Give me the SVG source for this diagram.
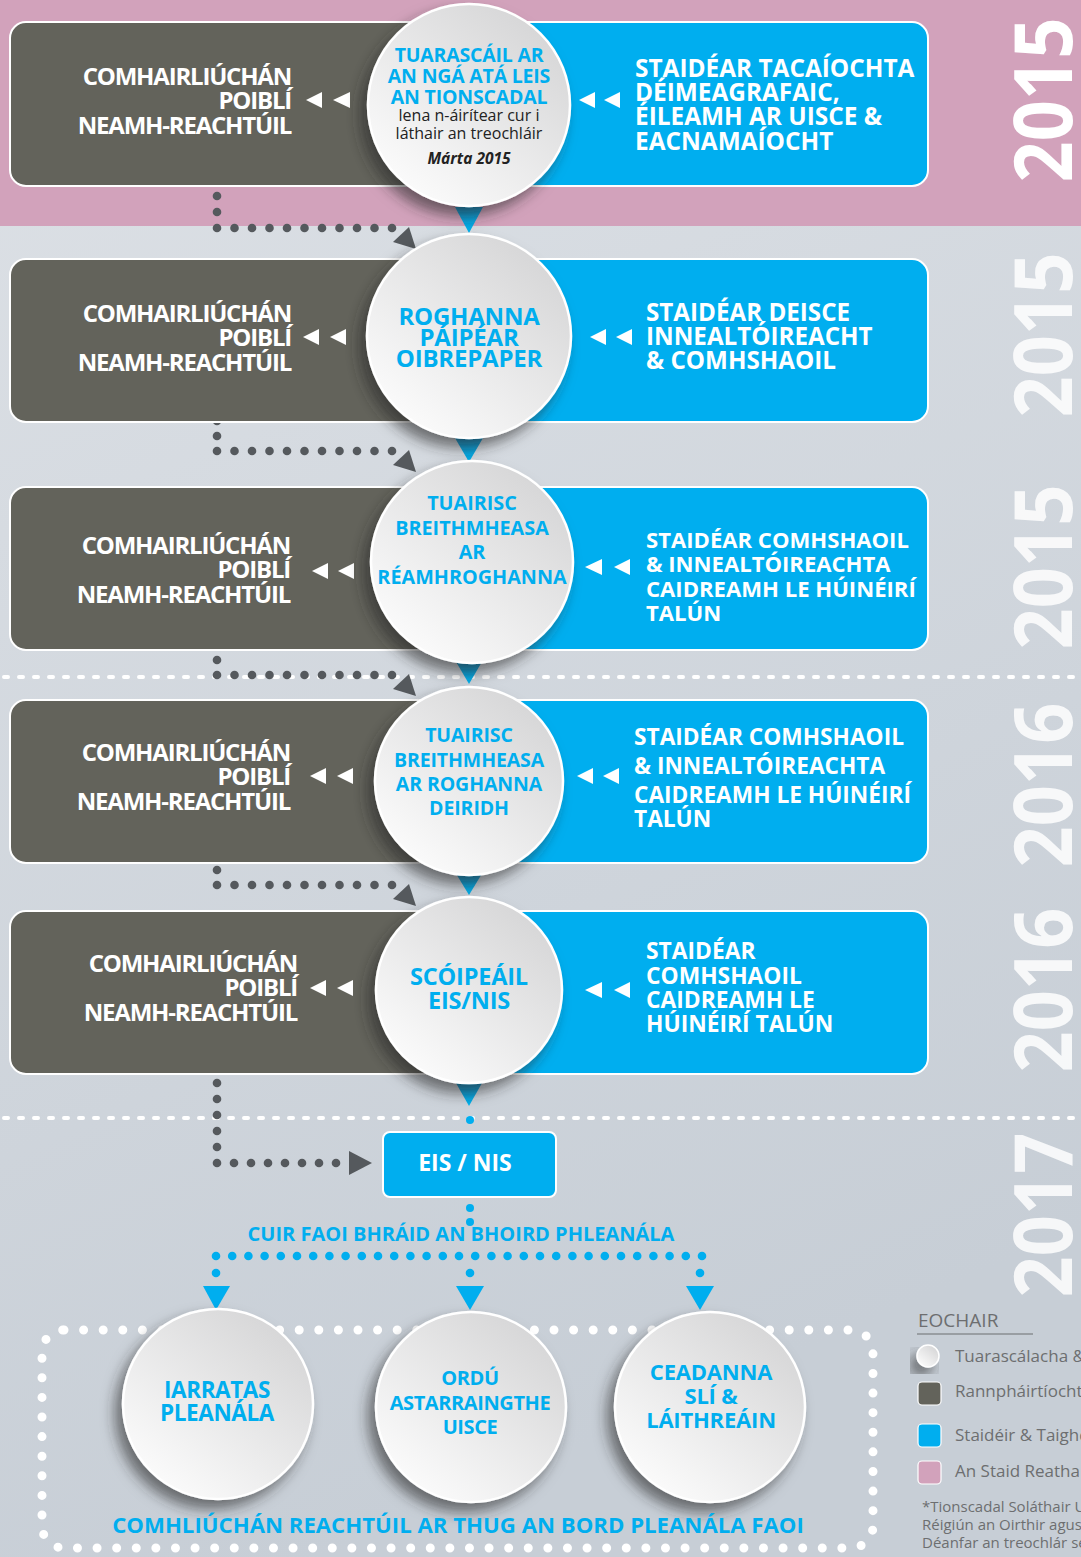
<svg xmlns="http://www.w3.org/2000/svg" width="1081" height="1557" viewBox="0 0 1081 1557">
<defs>
<linearGradient id="bg" x1="0" y1="0" x2="0.3" y2="1">
<stop offset="0" stop-color="#dde1e6"/>
<stop offset="1" stop-color="#c7ced6"/>
</linearGradient>
<linearGradient id="cg" x1="0.85" y1="0.1" x2="0.2" y2="0.9">
<stop offset="0" stop-color="#d6d6d7"/>
<stop offset="1" stop-color="#fafafa"/>
</linearGradient>
<linearGradient id="tg" x1="0" y1="0" x2="0" y2="1">
<stop offset="0" stop-color="#0a8fc8"/>
<stop offset="1" stop-color="#00b4f0"/>
</linearGradient>
<filter id="sh" x="-30%" y="-30%" width="160%" height="160%">
<feGaussianBlur in="SourceAlpha" stdDeviation="7"/>
<feOffset dx="-7" dy="9" result="b"/>
<feFlood flood-color="#2a2a2a" flood-opacity="0.6"/>
<feComposite in2="b" operator="in"/>
<feMerge><feMergeNode/><feMergeNode in="SourceGraphic"/></feMerge>
</filter>
<style>
.grey{fill:#63635b;stroke:#fff;stroke-width:2}
.blue{fill:#00aeef;stroke:#fff;stroke-width:2}
.circ{fill:url(#cg);stroke:#fff;stroke-width:2.5;filter:url(#sh)}
.gt{font-family:"Open Sans","Liberation Sans",sans-serif;font-weight:700;font-size:24px;fill:#fff;text-anchor:end;letter-spacing:-1.2px}
.bt{font-family:"Open Sans","Liberation Sans",sans-serif;font-weight:700;font-size:22.5px;fill:#fff}
.bt24{font-size:24.4px}
.ct{font-family:"Open Sans","Liberation Sans",sans-serif;font-weight:700;fill:#00aeef;text-anchor:middle}
.nt{font-family:"Open Sans","Liberation Sans",sans-serif;font-size:16px;fill:#222;text-anchor:middle}
.yr{font-family:"Open Sans","Liberation Sans",sans-serif;font-weight:700;font-size:80px;fill:#fff;text-anchor:middle}
.arr{fill:#fff}
.gd{fill:#55595d}
.bd{fill:#00aeef}
.lg{font-family:"Open Sans","Liberation Sans",sans-serif;font-size:17px;fill:#6d6e70}
.ft{font-family:"Open Sans","Liberation Sans",sans-serif;font-size:15px;fill:#6d6e70}
</style>
</defs>

<g id="background">
<rect x="0" y="0" width="1081" height="1557" fill="url(#bg)"/>
<rect x="0" y="0" width="1081" height="226" fill="#d2a2bb"/>
<line x1="4" y1="677" x2="1081" y2="677" stroke="#fff" stroke-width="4" stroke-linecap="round" stroke-dasharray="4 11"/>
<line x1="4" y1="1118" x2="1081" y2="1118" stroke="#fff" stroke-width="4" stroke-linecap="round" stroke-dasharray="4 11"/>
<rect x="42" y="1330" width="831" height="218" rx="22" fill="none" stroke="#fff" stroke-width="9" stroke-linecap="round" stroke-dasharray="0 19.6"/>
</g>

<g id="years">
<text class="yr" transform="translate(1072,100) rotate(-90)" textLength="165" lengthAdjust="spacingAndGlyphs">2015</text>
<text class="yr" transform="translate(1072,335) rotate(-90)" textLength="165" lengthAdjust="spacingAndGlyphs" opacity="0.85">2015</text>
<text class="yr" transform="translate(1072,567) rotate(-90)" textLength="165" lengthAdjust="spacingAndGlyphs" opacity="0.85">2015</text>
<text class="yr" transform="translate(1072,785) rotate(-90)" textLength="165" lengthAdjust="spacingAndGlyphs" opacity="0.85">2016</text>
<text class="yr" transform="translate(1072,990) rotate(-90)" textLength="165" lengthAdjust="spacingAndGlyphs" opacity="0.85">2016</text>
<text class="yr" transform="translate(1072,1215) rotate(-90)" textLength="165" lengthAdjust="spacingAndGlyphs" opacity="0.85">2017</text>
</g>

<g id="connectors">
<g class="gd">
<circle cx="217" cy="196" r="4.3"/><circle cx="217" cy="212" r="4.3"/>
<circle cx="217" cy="228" r="4.3"/><circle cx="234.5" cy="228" r="4.3"/><circle cx="252" cy="228" r="4.3"/><circle cx="269.5" cy="228" r="4.3"/><circle cx="287" cy="228" r="4.3"/><circle cx="304.5" cy="228" r="4.3"/><circle cx="322" cy="228" r="4.3"/><circle cx="339.5" cy="228" r="4.3"/><circle cx="357" cy="228" r="4.3"/><circle cx="374.5" cy="228" r="4.3"/><circle cx="392" cy="228" r="4.3"/>
<polygon points="393,242 409,227 416,249"/>
<circle cx="217" cy="421" r="4.3"/><circle cx="217" cy="436" r="4.3"/>
<circle cx="217" cy="451" r="4.3"/><circle cx="234.5" cy="451" r="4.3"/><circle cx="252" cy="451" r="4.3"/><circle cx="269.5" cy="451" r="4.3"/><circle cx="287" cy="451" r="4.3"/><circle cx="304.5" cy="451" r="4.3"/><circle cx="322" cy="451" r="4.3"/><circle cx="339.5" cy="451" r="4.3"/><circle cx="357" cy="451" r="4.3"/><circle cx="374.5" cy="451" r="4.3"/><circle cx="392" cy="451" r="4.3"/>
<polygon points="393,465 409,450 416,472"/>
<circle cx="217" cy="645" r="4.3"/><circle cx="217" cy="660" r="4.3"/>
<circle cx="217" cy="675" r="4.3"/><circle cx="234.5" cy="675" r="4.3"/><circle cx="252" cy="675" r="4.3"/><circle cx="269.5" cy="675" r="4.3"/><circle cx="287" cy="675" r="4.3"/><circle cx="304.5" cy="675" r="4.3"/><circle cx="322" cy="675" r="4.3"/><circle cx="339.5" cy="675" r="4.3"/><circle cx="357" cy="675" r="4.3"/><circle cx="374.5" cy="675" r="4.3"/><circle cx="392" cy="675" r="4.3"/>
<polygon points="393,689 409,674 416,696"/>
<circle cx="217" cy="855" r="4.3"/><circle cx="217" cy="870" r="4.3"/>
<circle cx="217" cy="885" r="4.3"/><circle cx="234.5" cy="885" r="4.3"/><circle cx="252" cy="885" r="4.3"/><circle cx="269.5" cy="885" r="4.3"/><circle cx="287" cy="885" r="4.3"/><circle cx="304.5" cy="885" r="4.3"/><circle cx="322" cy="885" r="4.3"/><circle cx="339.5" cy="885" r="4.3"/><circle cx="357" cy="885" r="4.3"/><circle cx="374.5" cy="885" r="4.3"/><circle cx="392" cy="885" r="4.3"/>
<polygon points="393,899 409,884 416,906"/>
<circle cx="217" cy="1083" r="4.3"/><circle cx="217" cy="1099" r="4.3"/><circle cx="217" cy="1115" r="4.3"/><circle cx="217" cy="1131" r="4.3"/><circle cx="217" cy="1147" r="4.3"/>
<circle cx="217" cy="1163" r="4.3"/><circle cx="234" cy="1163" r="4.3"/><circle cx="251" cy="1163" r="4.3"/><circle cx="268" cy="1163" r="4.3"/><circle cx="285" cy="1163" r="4.3"/><circle cx="302" cy="1163" r="4.3"/><circle cx="319" cy="1163" r="4.3"/><circle cx="336" cy="1163" r="4.3"/>
<polygon points="349,1151 372,1163 349,1175"/>
</g>
<g class="bd">
<circle cx="470" cy="1120" r="4"/><circle cx="470" cy="1208" r="4"/><circle cx="470" cy="1222" r="4"/>
<circle cx="216" cy="1256" r="4.3"/><circle cx="232.2" cy="1256" r="4.3"/><circle cx="248.4" cy="1256" r="4.3"/><circle cx="264.6" cy="1256" r="4.3"/><circle cx="280.8" cy="1256" r="4.3"/><circle cx="297" cy="1256" r="4.3"/><circle cx="313.2" cy="1256" r="4.3"/><circle cx="329.4" cy="1256" r="4.3"/><circle cx="345.6" cy="1256" r="4.3"/><circle cx="361.8" cy="1256" r="4.3"/><circle cx="378" cy="1256" r="4.3"/><circle cx="394.2" cy="1256" r="4.3"/><circle cx="410.4" cy="1256" r="4.3"/><circle cx="426.6" cy="1256" r="4.3"/><circle cx="442.8" cy="1256" r="4.3"/><circle cx="459" cy="1256" r="4.3"/><circle cx="475.2" cy="1256" r="4.3"/><circle cx="491.4" cy="1256" r="4.3"/><circle cx="507.6" cy="1256" r="4.3"/><circle cx="523.8" cy="1256" r="4.3"/><circle cx="540" cy="1256" r="4.3"/><circle cx="556.2" cy="1256" r="4.3"/><circle cx="572.4" cy="1256" r="4.3"/><circle cx="588.6" cy="1256" r="4.3"/><circle cx="604.8" cy="1256" r="4.3"/><circle cx="621" cy="1256" r="4.3"/><circle cx="637.2" cy="1256" r="4.3"/><circle cx="653.4" cy="1256" r="4.3"/><circle cx="669.6" cy="1256" r="4.3"/><circle cx="685.8" cy="1256" r="4.3"/><circle cx="702" cy="1256" r="4.3"/>
<circle cx="216" cy="1273" r="4.3"/><circle cx="470" cy="1273" r="4.3"/><circle cx="700" cy="1273" r="4.3"/>
<polygon points="203,1286 230,1286 216,1310"/>
<polygon points="456,1286 484,1286 470,1310"/>
<polygon points="686,1286 714,1286 700,1310"/>
</g>
<g fill="url(#tg)">
<polygon points="455,207 483,207 469,233"/>
<polygon points="455,438 483,438 469,462"/>
<polygon points="455,660 483,660 469,684"/>
<polygon points="455,872 483,872 469,895"/>
<polygon points="456,1083 482,1083 469,1106"/>
</g>
</g>

<g id="row1">
<rect class="grey" x="10" y="22" width="470" height="164" rx="16"/>
<rect class="blue" x="460" y="22" width="468" height="164" rx="16"/>
<text class="gt"><tspan x="291" y="85">COMHAIRLIÚCHÁN</tspan><tspan x="291" y="109">POIBLÍ</tspan><tspan x="291" y="134">NEAMH-REACHTÚIL</tspan></text>
<polygon class="arr" points="306,100 322,92 322,108"/><polygon class="arr" points="333,100 350,92 350,108"/>
<polygon class="arr" points="579,100 595,92 595,108"/><polygon class="arr" points="604,100 620,92 620,108"/>
<text class="bt bt24"><tspan x="635" y="77">STAIDÉAR TACAÍOCHTA</tspan><tspan x="635" y="101">DÉIMEAGRAFAIC,</tspan><tspan x="635" y="125">ÉILEAMH AR UISCE &amp;</tspan><tspan x="635" y="150">EACNAMAÍOCHT</tspan></text>
</g>
<g id="circle1">
<circle class="circ" cx="469" cy="105" r="101"/>
<text class="ct" font-size="19.5" letter-spacing="-0.2"><tspan x="469" y="62">TUARASCÁIL AR</tspan><tspan x="469" y="83">AN NGÁ ATÁ LEIS</tspan><tspan x="469" y="104">AN TIONSCADAL</tspan></text>
<text class="nt"><tspan x="469" y="121">lena n-áirítear cur i</tspan><tspan x="469" y="139">láthair an treochláir</tspan></text>
<text class="nt" style="font-size:15.5px;font-weight:700;font-style:italic" x="469" y="164">Márta 2015</text>
</g>

<g id="row2">
<rect class="grey" x="10" y="259" width="470" height="163" rx="16"/>
<rect class="blue" x="460" y="259" width="468" height="163" rx="16"/>
<text class="gt"><tspan x="291" y="322">COMHAIRLIÚCHÁN</tspan><tspan x="291" y="346">POIBLÍ</tspan><tspan x="291" y="371">NEAMH-REACHTÚIL</tspan></text>
<polygon class="arr" points="303,337 319,329 319,345"/><polygon class="arr" points="330,337 346,329 346,345"/>
<polygon class="arr" points="590,337 606,329 606,345"/><polygon class="arr" points="616,337 632,329 632,345"/>
<text class="bt" style="font-size:24.2px"><tspan x="646" y="321">STAIDÉAR DEISCE</tspan><tspan x="646" y="345">INNEALTÓIREACHT</tspan><tspan x="646" y="369">&amp; COMHSHAOIL</tspan></text>
</g>
<g id="circle2">
<circle class="circ" cx="469" cy="336" r="102"/>
<text class="ct" font-size="24" letter-spacing="-0.2"><tspan x="469" y="325">ROGHANNA</tspan><tspan x="469" y="346">PÁIPÉAR</tspan><tspan x="469" y="367">OIBREPAPER</tspan></text>
</g>

<g id="row3">
<rect class="grey" x="10" y="487" width="470" height="163" rx="16"/>
<rect class="blue" x="460" y="487" width="468" height="163" rx="16"/>
<text class="gt"><tspan x="290" y="554">COMHAIRLIÚCHÁN</tspan><tspan x="290" y="578">POIBLÍ</tspan><tspan x="290" y="603">NEAMH-REACHTÚIL</tspan></text>
<polygon class="arr" points="312,571 328,563 328,579"/><polygon class="arr" points="338,571 354,563 354,579"/>
<polygon class="arr" points="585,567 602,559 602,575"/><polygon class="arr" points="614,567 630,559 630,575"/>
<text class="bt" style="font-size:22.1px"><tspan x="646" y="548">STAIDÉAR COMHSHAOIL</tspan><tspan x="646" y="572">&amp; INNEALTÓIREACHTA</tspan><tspan x="646" y="597">CAIDREAMH LE HÚINÉIRÍ</tspan><tspan x="646" y="621">TALÚN</tspan></text>
</g>
<g id="circle3">
<circle class="circ" cx="472" cy="562" r="101"/>
<text class="ct" font-size="19.8"><tspan x="472" y="510">TUAIRISC</tspan><tspan x="472" y="535">BREITHMHEASA</tspan><tspan x="472" y="559">AR</tspan><tspan x="472" y="584">RÉAMHROGHANNA</tspan></text>
</g>

<g id="row4">
<rect class="grey" x="10" y="700" width="470" height="163" rx="16"/>
<rect class="blue" x="460" y="700" width="468" height="163" rx="16"/>
<text class="gt"><tspan x="290" y="761">COMHAIRLIÚCHÁN</tspan><tspan x="290" y="785">POIBLÍ</tspan><tspan x="290" y="810">NEAMH-REACHTÚIL</tspan></text>
<polygon class="arr" points="310,776 326,768 326,784"/><polygon class="arr" points="337,776 353,768 353,784"/>
<polygon class="arr" points="577,776 593,768 593,784"/><polygon class="arr" points="603,776 619,768 619,784"/>
<text class="bt" style="font-size:22.7px"><tspan x="634" y="745">STAIDÉAR COMHSHAOIL</tspan><tspan x="634" y="774">&amp; INNEALTÓIREACHTA</tspan><tspan x="634" y="803">CAIDREAMH LE HÚINÉIRÍ</tspan><tspan x="634" y="827">TALÚN</tspan></text>
</g>
<g id="circle4">
<circle class="circ" cx="469" cy="781" r="94"/>
<text class="ct" font-size="19.5" letter-spacing="-0.1"><tspan x="469" y="742">TUAIRISC</tspan><tspan x="469" y="767">BREITHMHEASA</tspan><tspan x="469" y="791">AR ROGHANNA</tspan><tspan x="469" y="815">DEIRIDH</tspan></text>
</g>

<g id="row5">
<rect class="grey" x="10" y="911" width="470" height="163" rx="16"/>
<rect class="blue" x="460" y="911" width="468" height="163" rx="16"/>
<text class="gt"><tspan x="297" y="972">COMHAIRLIÚCHÁN</tspan><tspan x="297" y="996">POIBLÍ</tspan><tspan x="297" y="1021">NEAMH-REACHTÚIL</tspan></text>
<polygon class="arr" points="310,988 326,980 326,996"/><polygon class="arr" points="337,988 353,980 353,996"/>
<polygon class="arr" points="585,990 602,982 602,998"/><polygon class="arr" points="614,990 630,982 630,998"/>
<text class="bt" style="font-size:22.8px"><tspan x="646" y="959">STAIDÉAR</tspan><tspan x="646" y="984">COMHSHAOIL</tspan><tspan x="646" y="1008">CAIDREAMH LE</tspan><tspan x="646" y="1032">HÚINÉIRÍ TALÚN</tspan></text>
</g>
<g id="circle5">
<circle class="circ" cx="469" cy="990" r="93"/>
<text class="ct" font-size="23.5" letter-spacing="-0.2"><tspan x="469" y="985">SCÓIPEÁIL</tspan><tspan x="469" y="1009">EIS/NIS</tspan></text>
</g>

<g id="eis-nis">
<rect class="blue" x="383" y="1132" width="173" height="65" rx="7"/>
<text class="ct" style="fill:#fff" font-size="23" x="465" y="1171">EIS / NIS</text>
</g>
<g id="label-submit">
<text class="ct" font-size="20" x="461" y="1241">CUIR FAOI BHRÁID AN BHOIRD PHLEANÁLA</text>
</g>

<g id="circle6">
<circle class="circ" cx="218" cy="1404" r="95"/>
<text class="ct" font-size="22.5" letter-spacing="-0.4"><tspan x="217" y="1398">IARRATAS</tspan><tspan x="217" y="1421">PLEANÁLA</tspan></text>
</g>
<g id="circle7">
<circle class="circ" cx="471" cy="1407" r="95"/>
<text class="ct" font-size="20" letter-spacing="-0.4"><tspan x="470" y="1385">ORDÚ</tspan><tspan x="470" y="1410">ASTARRAINGTHE</tspan><tspan x="470" y="1434">UISCE</tspan></text>
</g>
<g id="circle8">
<circle class="circ" cx="710" cy="1407" r="95"/>
<text class="ct" font-size="22" letter-spacing="-0.2"><tspan x="711" y="1380">CEADANNA</tspan><tspan x="711" y="1404">SLÍ &amp;</tspan><tspan x="711" y="1428">LÁITHREÁIN</tspan></text>
</g>
<g id="label-statutory">
<text class="ct" font-size="22.2" x="458" y="1533">COMHLIÚCHÁN REACHTÚIL AR THUG AN BORD PLEANÁLA FAOI</text>
</g>

<g id="legend">
<text class="lg" style="font-size:19px" x="918" y="1327">EOCHAIR</text>
<line x1="917" y1="1334" x2="1033" y2="1334" stroke="#6d6e70" stroke-width="1.2"/>
<circle cx="928" cy="1356" r="11" fill="url(#cg)" stroke="#fff" stroke-width="1.5" style="filter:url(#sh)"/>
<text class="lg" x="955" y="1362">Tuarascálacha &amp;</text>
<rect x="918" y="1382" width="23" height="23" rx="4" fill="#63635b" stroke="#fff" stroke-width="1.2"/>
<text class="lg" x="955" y="1397">Rannpháirtíocht</text>
<rect x="918" y="1424" width="23" height="23" rx="4" fill="#00aeef" stroke="#fff" stroke-width="1.2"/>
<text class="lg" x="955" y="1441">Staidéir &amp; Taighde</text>
<rect x="918" y="1461" width="23" height="23" rx="4" fill="#d2a2bb" stroke="#fff" stroke-width="1.2"/>
<text class="lg" x="955" y="1477">An Staid Reatha</text>
<text class="ft"><tspan x="922" y="1512">*Tionscadal Soláthair Uisce</tspan><tspan x="922" y="1530">Réigiún an Oirthir agus</tspan><tspan x="922" y="1548">Déanfar an treochlár seo</tspan></text>
</g>
</svg>
